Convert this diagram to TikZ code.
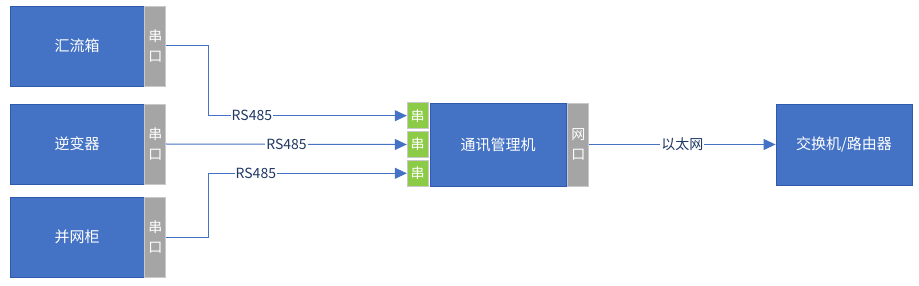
\documentclass[tikz,border=0pt]{standalone}
\usepackage{fontspec}
\setmainfont{Noto Sans CJK SC}
\usetikzlibrary{positioning,arrows.meta}
\definecolor{boxblue}{HTML}{4472C4}
\definecolor{boxedge}{HTML}{2F5AAE}
\definecolor{portgray}{HTML}{A5A5A5}
\definecolor{portedge}{HTML}{C9C9C9}
\definecolor{portgreen}{HTML}{8CCB45}
\definecolor{labelblue}{HTML}{203864}
\begin{document}
\begin{tikzpicture}[x=1pt,y=-1pt,
  unit/.style={draw=boxedge,line width=0.8pt,fill=boxblue,text=white,font=\fontsize{15}{17}\selectfont,minimum width=134pt,minimum height=80pt,inner sep=0pt},
  port/.style={draw=portedge,line width=0.8pt,fill=portgray,text=white,font=\fontsize{14}{20}\selectfont,align=center,minimum width=21pt,minimum height=80pt,inner sep=0pt},
  sport/.style={draw=portedge,line width=0.8pt,fill=portgreen,text=white,font=\fontsize{14}{16}\selectfont,minimum width=21pt,minimum height=26pt,inner sep=0pt},
  link/.style={draw=boxblue,line width=1pt,-{Triangle[length=12pt,width=11pt]}},
  tag/.style={fill=white,text=labelblue,font=\fontsize{14}{16}\selectfont,inner sep=1pt}]
 \useasboundingbox (0,0) rectangle (919,286);
 % field devices
 \node[unit] (combiner) at (77,46) {汇流箱};
 \node[port,right=0pt of combiner] (pcombiner) {串\\口};
 \node[unit] (inverter) at (77,144) {逆变器};
 \node[port,right=0pt of inverter] (pinverter) {串\\口};
 \node[unit] (cabinet) at (77,237) {并网柜};
 \node[port,right=0pt of cabinet] (pcabinet) {串\\口};
 % manager
 \node[unit,minimum width=136pt,minimum height=83pt] (manager) at (498,144.5) {通讯管理机};
 \node[sport,left=1pt of manager.west] (s2) {串};
 \node[sport,above=2pt of s2] (s1) {串};
 \node[sport,below=2pt of s2] (s3) {串};
 \node[port,minimum height=83pt,right=1pt of manager] (eth) {网\\口};
 \node[unit,minimum width=136pt,minimum height=81pt] (switch) at (844,144.5) {交换机/路由器};
 % links
 \draw[link] (pcombiner.east) -- ++(42,0) |- (s1.west) node[tag,pos=0.61] {RS485};
 \draw[link] (pinverter.east) -- (s2.west) node[tag,pos=0.5] {RS485};
 \draw[link] (pcabinet.east) -- ++(42,0) |- (s3.west) node[tag,pos=0.62] {RS485};
 \draw[link] (eth.east) -- (switch.west) node[tag,pos=0.5] {以太网};
\end{tikzpicture}
\end{document}
